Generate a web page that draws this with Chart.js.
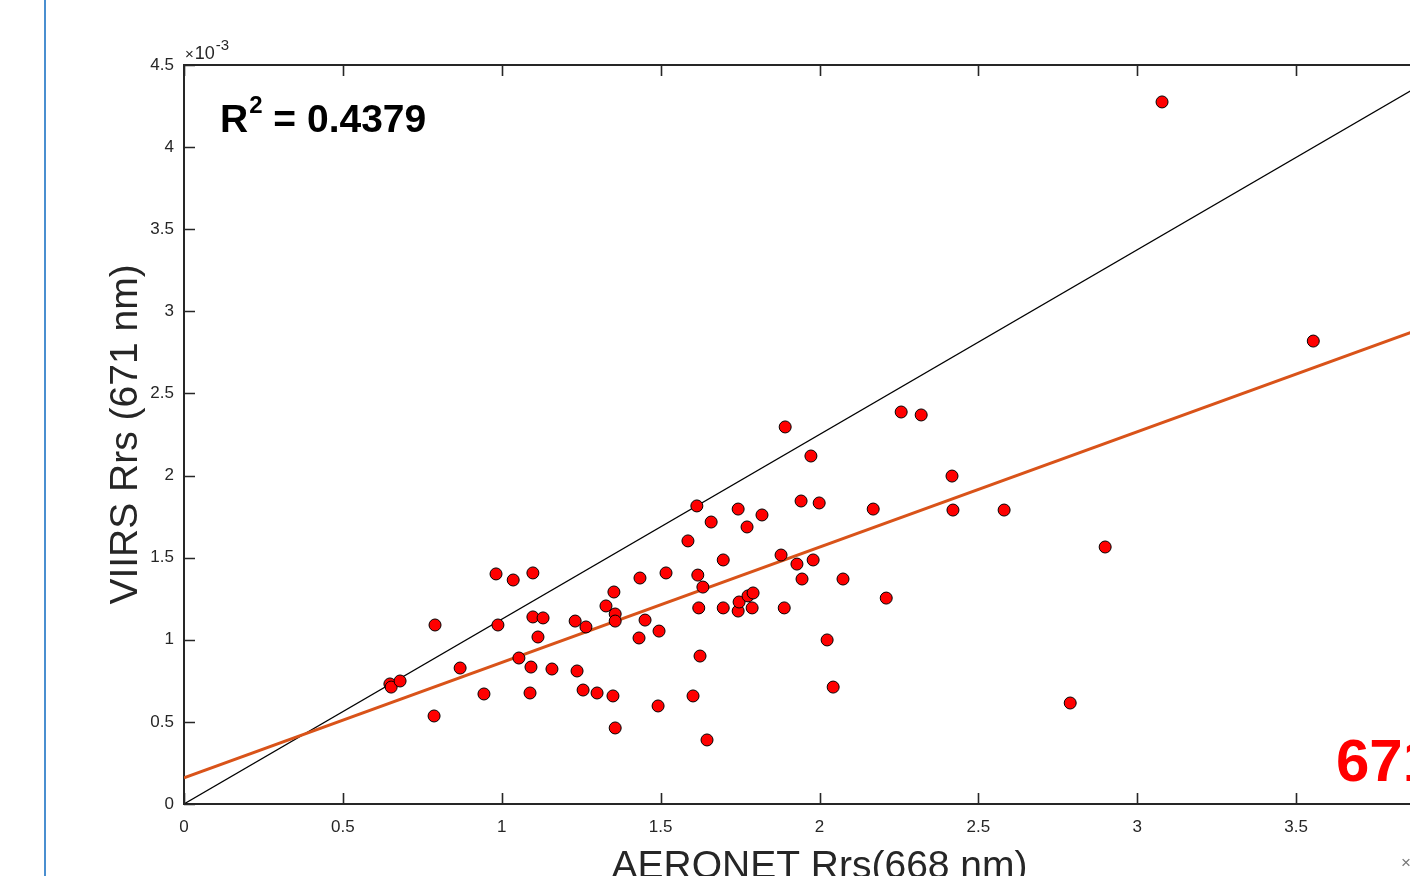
<!DOCTYPE html>
<html>
<head>
<meta charset="utf-8">
<script src="https://cdn.jsdelivr.net/npm/chart.js@4.4.1/dist/chart.umd.min.js"></script>
<style>
  html, body { margin: 0; padding: 0; background: #fff; overflow: hidden; }
  #wrap { position: relative; width: 1410px; height: 876px; overflow: hidden; }
  #leftbar { position: absolute; left: 44px; top: 0; width: 2px; height: 876px; background: #4a8fd0; }
  #scatter { position: absolute; left: 0; top: 0; }
</style>
</head>
<body>
<div id="wrap">
  <div id="leftbar"></div>
  <canvas id="scatter" width="1500" height="876"></canvas>
</div>
<script>
// values in units of 1e-3 sr^-1 (axes carry the x10^-3 label)
const aeronetRrs = [
  0.648, 0.652, 0.680, 0.790, 0.787, 0.869, 0.944, 0.982, 0.988, 1.036,
  1.054, 1.089, 1.092, 1.098, 1.098, 1.114, 1.130, 1.158, 1.231, 1.237,
  1.256, 1.265, 1.300, 1.328, 1.353, 1.357, 1.357, 1.350, 1.357, 1.432,
  1.435, 1.451, 1.492, 1.495, 1.517, 1.586, 1.602, 1.614, 1.617, 1.620,
  1.624, 1.633, 1.646, 1.659, 1.697, 1.697, 1.744, 1.744, 1.747, 1.772,
  1.775, 1.788, 1.791, 1.819, 1.879, 1.889, 1.892, 1.929, 1.942, 1.945,
  1.973, 1.980, 1.999, 2.024, 2.043, 2.074, 2.169, 2.210, 2.257, 2.320,
  2.417, 2.420, 2.581, 2.789, 2.899, 3.078, 3.554
];
const viirsRrs = [
  0.731, 0.712, 0.749, 1.090, 0.536, 0.828, 0.670, 1.401, 1.090, 1.364,
  0.889, 0.676, 0.834, 1.407, 1.139, 1.017, 1.133, 0.822, 1.114, 0.810,
  0.694, 1.078, 0.676, 1.206, 1.291, 1.157, 1.114, 0.658, 0.463, 1.011,
  1.376, 1.120, 0.597, 1.053, 1.407, 1.602, 0.658, 1.815, 1.394, 1.194,
  0.901, 1.321, 0.390, 1.717, 1.486, 1.194, 1.796, 1.175, 1.230, 1.687,
  1.267, 1.194, 1.285, 1.760, 1.516, 1.194, 2.296, 1.461, 1.845, 1.370,
  2.119, 1.486, 1.833, 0.999, 0.712, 1.370, 1.796, 1.254, 2.387, 2.369,
  1.997, 1.790, 1.790, 0.615, 1.565, 4.275, 2.819
];

// reference diagonal and fitted line, end points
const diagX = [0, 4];
const diagY = [0, 4.5];
const fitX = [0, 4];
const fitY = [0.160, 2.969];

const xTicks = [0, 0.5, 1, 1.5, 2, 2.5, 3, 3.5, 4];
const yTicks = [0, 0.5, 1, 1.5, 2, 2.5, 3, 3.5, 4, 4.5];

const rSquared = '0.4379';
const xTitle = 'AERONET Rrs(668 nm)';
const yTitle = 'VIIRS Rrs (671 nm)';
const bandLabel = '671';

const FONT = '"Liberation Sans", Arial, Helvetica, sans-serif';
const AXIS = '#262626';

function toPoints(xs, ys) {
  return xs.map(function (x, i) { return { x: x, y: ys[i] }; });
}

function plainTick(value) {
  return String(value);
}

const axesDecor = {
  id: 'axesDecor',
  afterDraw: function (chart) {
    "use strict";
    const ctx = chart.ctx;
    const xs = chart.scales.x;
    const ys = chart.scales.y;
    const area = chart.chartArea;
    const tl = 11;

    ctx.save();
    ctx.strokeStyle = AXIS;
    ctx.lineWidth = 2;
    // top box edge
    ctx.beginPath();
    ctx.moveTo(area.left - 1, area.top);
    ctx.lineTo(area.right, area.top);
    ctx.stroke();

    // inward ticks
    ctx.lineWidth = 1.6;
    ctx.beginPath();
    xTicks.forEach(function (v) {
      const px = Math.round(xs.getPixelForValue(v)) + 0.5;
      ctx.moveTo(px, area.bottom);
      ctx.lineTo(px, area.bottom - tl);
      ctx.moveTo(px, area.top);
      ctx.lineTo(px, area.top + tl);
    });
    yTicks.forEach(function (v) {
      const py = Math.round(ys.getPixelForValue(v)) + 0.5;
      ctx.moveTo(area.left, py);
      ctx.lineTo(area.left + tl, py);
    });
    ctx.stroke();

    // exponent labels
    ctx.fillStyle = AXIS;
    ctx.textBaseline = 'alphabetic';
    ctx.textAlign = 'left';
    ctx.font = '15px ' + FONT;
    ctx.fillText('\u00d7', area.left + 1, 59);
    let w = ctx.measureText('\u00d7').width;
    ctx.font = '18px ' + FONT;
    ctx.fillText('10', area.left + 2 + w, 59);
    w += ctx.measureText('10').width;
    ctx.font = '15px ' + FONT;
    ctx.fillText('-3', area.left + w + 3, 50);
    ctx.font = '17px ' + FONT;
    ctx.fillStyle = '#777777';
    ctx.fillText('\u00d7', 1401, 868);

    // R^2 annotation
    ctx.fillStyle = '#000';
    ctx.font = 'bold 39px ' + FONT;
    ctx.fillText('R', 220, 132);
    w = ctx.measureText('R').width;
    ctx.font = 'bold 24px ' + FONT;
    ctx.fillText('2', 220 + w + 1, 113);
    const w2 = ctx.measureText('2').width;
    ctx.font = 'bold 39px ' + FONT;
    ctx.fillText(' = ' + rSquared, 220 + w + w2 + 1, 132);

    // band label
    ctx.fillStyle = '#ff0000';
    ctx.font = 'bold 60px ' + FONT;
    ctx.fillText(bandLabel, 1336, 781);

    // axis titles
    ctx.fillStyle = AXIS;
    ctx.font = '39px ' + FONT;
    ctx.textAlign = 'center';
    ctx.fillText(xTitle, (area.left + area.right) / 2, 878);
    ctx.translate(137, (area.top + area.bottom) / 2);
    ctx.rotate(-Math.PI / 2);
    ctx.fillText(yTitle, 0, 0);
    ctx.restore();
  }
};

new Chart(document.getElementById('scatter'), {
  type: 'scatter',
  data: {
    datasets: [
      {
        label: 'matchups',
        data: toPoints(aeronetRrs, viirsRrs),
        backgroundColor: '#ff0000',
        borderColor: '#000000',
        borderWidth: 1,
        pointRadius: 6,
        order: 0
      },
      {
        type: 'line',
        label: 'fit',
        data: toPoints(fitX, fitY),
        borderColor: '#d95319',
        borderWidth: 3,
        pointRadius: 0,
        fill: false,
        order: 1
      },
      {
        type: 'line',
        label: '1:1',
        data: toPoints(diagX, diagY),
        borderColor: '#000000',
        borderWidth: 1.2,
        pointRadius: 0,
        fill: false,
        order: 2
      }
    ]
  },
  options: {
    responsive: false,
    animation: false,
    devicePixelRatio: 1,
    layout: { padding: { left: 0, top: 65, right: 45, bottom: 0 } },
    plugins: {
      legend: { display: false },
      tooltip: { enabled: false }
    },
    scales: {
      x: {
        type: 'linear',
        min: 0,
        max: 4,
        afterFit: function (scale) { scale.height = 72; },
        afterBuildTicks: function (scale) {
          scale.ticks = xTicks.map(function (v) { return { value: v }; });
        },
        grid: { display: false, drawTicks: false },
        border: { display: true, color: AXIS, width: 2 },
        ticks: {
          color: AXIS,
          padding: 13,
          maxRotation: 0,
          callback: plainTick,
          font: { family: FONT, size: 17 }
        }
      },
      y: {
        type: 'linear',
        min: 0,
        max: 4.5,
        afterFit: function (scale) { scale.width = 184; },
        afterBuildTicks: function (scale) {
          scale.ticks = yTicks.map(function (v) { return { value: v }; });
        },
        grid: { display: false, drawTicks: false },
        border: { display: true, color: AXIS, width: 2 },
        ticks: {
          color: AXIS,
          padding: 10,
          callback: plainTick,
          font: { family: FONT, size: 17 }
        }
      }
    }
  },
  plugins: [axesDecor]
});
</script>
</body>
</html>
